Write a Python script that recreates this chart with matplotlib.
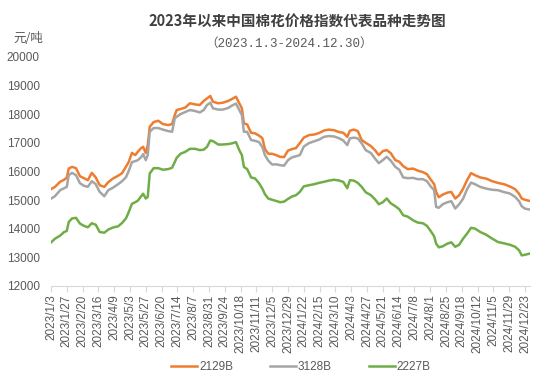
import matplotlib
matplotlib.use("Agg")
import matplotlib.pyplot as plt
import pandas as pd

# Cotton price index, yuan/ton
dates = [
    "2023-01-03", "2023-01-09", "2023-01-17", "2023-01-23", "2023-01-27", "2023-01-30", "2023-02-04", "2023-02-10",
    "2023-02-16", "2023-02-22", "2023-02-28", "2023-03-06", "2023-03-12", "2023-03-18", "2023-03-25", "2023-03-31",
    "2023-04-07", "2023-04-15", "2023-04-21", "2023-04-27", "2023-05-01", "2023-05-06", "2023-05-11", "2023-05-15",
    "2023-05-20", "2023-05-23", "2023-05-27", "2023-05-30", "2023-06-02", "2023-06-08", "2023-06-15", "2023-06-22",
    "2023-06-30", "2023-07-06", "2023-07-10", "2023-07-13", "2023-07-19", "2023-07-26", "2023-08-02", "2023-08-10",
    "2023-08-17", "2023-08-23", "2023-08-28", "2023-09-02", "2023-09-06", "2023-09-14", "2023-09-21", "2023-09-29",
    "2023-10-05", "2023-10-11", "2023-10-16", "2023-10-20", "2023-10-23", "2023-10-28", "2023-11-03", "2023-11-09",
    "2023-11-15", "2023-11-20", "2023-11-24", "2023-11-29", "2023-12-05", "2023-12-11", "2023-12-17", "2023-12-23",
    "2023-12-29", "2024-01-04", "2024-01-10", "2024-01-16", "2024-01-22", "2024-01-30", "2024-02-07", "2024-02-14",
    "2024-02-22", "2024-02-29", "2024-03-08", "2024-03-15", "2024-03-22", "2024-03-28", "2024-04-01", "2024-04-07",
    "2024-04-13", "2024-04-19", "2024-04-25", "2024-05-03", "2024-05-09", "2024-05-15", "2024-05-21", "2024-05-27",
    "2024-06-02", "2024-06-09", "2024-06-15", "2024-06-21", "2024-06-28", "2024-07-06", "2024-07-13", "2024-07-21",
    "2024-07-27", "2024-08-02", "2024-08-07", "2024-08-10", "2024-08-14", "2024-08-20", "2024-08-27", "2024-09-02",
    "2024-09-08", "2024-09-14", "2024-09-20", "2024-09-26", "2024-10-02", "2024-10-08", "2024-10-16", "2024-10-25",
    "2024-11-03", "2024-11-12", "2024-11-21", "2024-11-30", "2024-12-08", "2024-12-14", "2024-12-18", "2024-12-23",
    "2024-12-30",
]

p2129b = [
    15380, 15460, 15640, 15710, 15780, 16100, 16160, 16115, 15835, 15765,
    15695, 15950, 15790, 15520, 15460, 15625, 15750, 15850, 15940, 16170,
    16325, 16650, 16570, 16690, 16815, 16860, 16640, 16920, 17560, 17725,
    17770, 17655, 17620, 17655, 17970, 18145, 18180, 18230, 18380, 18340,
    18320, 18460, 18550, 18635, 18435, 18380, 18400, 18460, 18530, 18610,
    18380, 18200, 17680, 17640, 17350, 17330, 17250, 17165, 16780, 16620,
    16615, 16570, 16510, 16500, 16730, 16780, 16815, 16990, 17180, 17270,
    17290, 17340, 17430, 17460, 17440, 17380, 17350, 17210, 17420, 17460,
    17410, 17095, 17000, 16885, 16745, 16570, 16710, 16745, 16640, 16395,
    16340, 16185, 16080, 16100, 16030, 15975, 15905, 15710, 15555, 15285,
    15100, 15190, 15260, 15285, 15055, 15170, 15400, 15695, 15940, 15870,
    15790, 15750, 15660, 15600, 15555, 15475, 15380, 15220, 15055, 15010,
    14970,
]

p3128b = [
    15050, 15135, 15345, 15415, 15460, 15870, 15950, 15870, 15590, 15500,
    15465, 15660, 15555, 15285, 15135, 15345, 15430, 15555, 15660, 15800,
    16010, 16325, 16360, 16395, 16500, 16605, 16395, 16570, 17385, 17515,
    17515, 17460, 17410, 17385, 17855, 17910, 18005, 18075, 18145, 18110,
    18060, 18145, 18320, 18400, 18205, 18160, 18160, 18215, 18300, 18370,
    18145, 17970, 17385, 17385, 17095, 17070, 17025, 16850, 16570, 16380,
    16240, 16250, 16220, 16200, 16395, 16490, 16530, 16570, 16870, 16990,
    17055, 17110, 17210, 17235, 17220, 17165, 17080, 16920, 17155, 17180,
    17155, 16980, 16745, 16640, 16455, 16290, 16395, 16510, 16380, 16160,
    16060, 15790, 15765, 15775, 15730, 15730, 15660, 15470, 15345, 14760,
    14730, 14855, 14925, 14960, 14705, 14855, 15050, 15380, 15610, 15555,
    15460, 15400, 15360, 15345, 15280, 15230, 15110, 14960, 14785, 14700,
    14670,
]

p2227b = [
    13520, 13650, 13760, 13885, 13920, 14235, 14360, 14380, 14180, 14100,
    14050, 14190, 14140, 13885, 13860, 13970, 14040, 14085, 14200, 14365,
    14575, 14870, 14925, 14980, 15135, 15220, 15055, 15110, 15930, 16115,
    16115, 16060, 16080, 16130, 16325, 16480, 16620, 16685, 16790, 16790,
    16745, 16760, 16860, 17080, 17060, 16940, 16940, 16955, 16980, 17025,
    16745, 16570, 16160, 16080, 15790, 15755, 15590, 15400, 15205, 15055,
    15010, 14970, 14925, 14945, 15040, 15125, 15170, 15285, 15480, 15520,
    15555, 15600, 15640, 15680, 15710, 15685, 15635, 15415, 15695, 15680,
    15600, 15460, 15275, 15170, 15030, 14855, 14925, 15055, 14890, 14785,
    14680, 14470, 14420, 14295, 14215, 14190, 14100, 13910, 13735, 13480,
    13350, 13385, 13480, 13525, 13370, 13440, 13655, 13830, 14030, 14005,
    13885, 13790, 13655, 13535, 13490, 13440, 13370, 13245, 13070, 13090,
    13130,
]

series_names = ["2129B", "3128B", "2227B"]
y_ticks = [12000, 13000, 14000, 15000, 16000, 17000, 18000, 19000, 20000]
x_range = ("2023-01-03", "2024-12-30")
tick_range = ("2023-01-03", "2024-12-23")

title = "2023年以来中国棉花价格指数代表品种走势图"
subtitle = "（2023.1.3-2024.12.30）"
unit = "元/吨"

colours = ["#ED7D31", "#A5A5A5", "#70AD47"]
text_grey = "#595959"
axis_grey = "#D9D9D9"

plt.rcParams["font.family"] = ["Liberation Sans", "Noto Sans CJK SC"]

fig = plt.figure(figsize=(5.54, 3.87), dpi=100)
ax = fig.add_axes([0.092, 0.261, 0.864, 0.592])

x = pd.to_datetime(dates)
for values, name, colour in zip([p2129b, p3128b, p2227b], series_names, colours):
    ax.plot(x, values, color=colour, lw=1.8, label=name, solid_joinstyle="round")

ax.set_xlim(pd.Timestamp(x_range[0]), pd.Timestamp(x_range[1]))
ax.set_ylim(y_ticks[0], y_ticks[-1])
ax.set_yticks(y_ticks)

# excel date axis: one tick every 24 days
ticks = pd.date_range(tick_range[0], tick_range[1], freq="24D")
ax.set_xticks(ticks)
ax.set_xticklabels([f"{d.year}/{d.month}/{d.day}" for d in ticks], rotation=90)

for side in ["top", "right", "left"]:
    ax.spines[side].set_visible(False)
ax.spines["bottom"].set_color(axis_grey)
ax.tick_params(axis="y", length=0, pad=8, labelsize=8.5, labelcolor=text_grey)
ax.tick_params(axis="x", length=4, color=axis_grey, pad=2, labelsize=8.5, labelcolor=text_grey)

fig.text(0.536, 1 - 21 / 387, title, ha="center", va="center", fontsize=10.5,
         fontweight="bold", color="#404040", family="Noto Sans CJK SC")
# subtitle is set in a fixed-width face in the original, hence the wide dots
fig.text(289 / 554, 1 - 44 / 387, subtitle, ha="center", va="center", fontsize=9,
         color=text_grey, family=["Liberation Mono", "Noto Sans CJK SC"])
fig.text(28 / 554, 1 - 38 / 387, unit, ha="center", va="center", fontsize=9,
         color=text_grey, family="Noto Sans CJK SC")

fig.legend(loc="center", bbox_to_anchor=(0.543, 1 - 367 / 387), ncol=3, frameon=False,
           handlelength=2.2, handletextpad=0.2, columnspacing=3.1, fontsize=8.5,
           labelcolor=text_grey)

fig.savefig("out.png", dpi=100)
